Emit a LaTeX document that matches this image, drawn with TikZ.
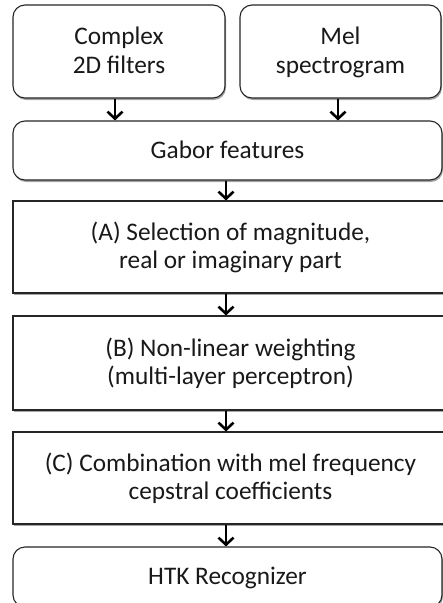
\documentclass[tikz,border=0pt]{standalone}
\usepackage{fontspec}
\setmainfont{Carlito}
\usetikzlibrary{arrows.meta,shadows}
\newcommand{\lnstrut}{\rule[-6.5pt]{0pt}{28pt}}
\begin{document}
\begin{tikzpicture}[x=1pt,y=1pt,
  box/.style={draw=black!85, line width=1.1pt, fill=white, align=center, inner sep=0pt,
    font=\fontsize{25.3}{28.2}\selectfont, text=black!90,
    drop shadow={shadow xshift=1pt, shadow yshift=-2pt, fill=black, opacity=0.35}},
  rbox/.style={box, rounded corners=12pt},
  sbox/.style={box},
  arr/.style={line width=2.6pt, black, -{Straight Barb[length=7pt,width=15pt,line width=2.6pt]}}
]
\useasboundingbox (0,0) rectangle (443,-603);
\begin{scope}
\clip (0,0) rectangle (443,-603);
\node[rbox, minimum width=212pt, minimum height=93pt] (cf) at (119,-51.5) {\lnstrut Complex\\\lnstrut 2D filters};
\node[rbox, minimum width=201pt, minimum height=93pt] (mel) at (340.5,-51.5) {\lnstrut Mel\\\lnstrut spectrogram};
\node[rbox, minimum width=429pt, minimum height=59pt] (gab) at (227.5,-150.5) {\lnstrut Gabor features};
\node[sbox, minimum width=435pt, minimum height=92pt] (a) at (230.5,-247) {\lnstrut (A) Selection of magnitude,\\\lnstrut real or imaginary part};
\node[sbox, minimum width=435pt, minimum height=94pt] (b) at (230.5,-363) {\lnstrut (B) Non-linear weighting\\\lnstrut (multi-layer perceptron)};
\node[sbox, minimum width=435pt, minimum height=92pt] (c) at (230.5,-478) {\lnstrut (C) Combination with mel frequency\\\lnstrut cepstral coefficients};
\node[rbox, minimum width=429pt, minimum height=60pt] (htk) at (227.5,-577) {\lnstrut HTK Recognizer};
\end{scope}
\coordinate (ga) at (115,0);
\coordinate (gm) at (338,0);
\coordinate (gc) at (226,0);
\draw[arr] (ga |- cf.south) -- (ga |- gab.north);
\draw[arr] (gm |- mel.south) -- (gm |- gab.north);
\draw[arr] (gc |- gab.south) -- (gc |- a.north);
\draw[arr] (gc |- a.south) -- (gc |- b.north);
\draw[arr] (gc |- b.south) -- (gc |- c.north);
\draw[arr] (gc |- c.south) -- (gc |- htk.north);
\end{tikzpicture}
\end{document}
